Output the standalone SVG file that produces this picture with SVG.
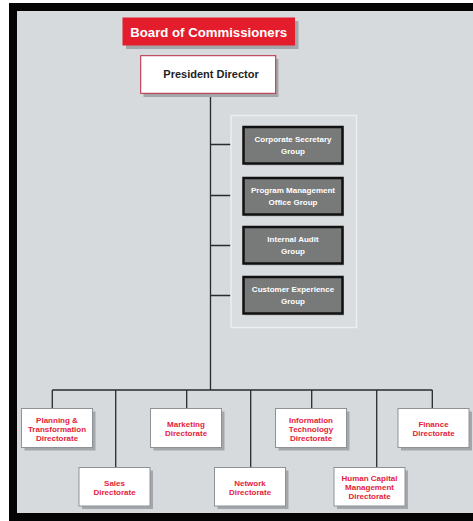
<svg xmlns="http://www.w3.org/2000/svg" width="473" height="521" viewBox="0 0 473 521">
<style>
text{font-family:"Liberation Sans",Arial,sans-serif;font-weight:bold;text-anchor:middle}
.shadow{fill:#a3a7ab}
.dir{fill:#ffffff;stroke:#8e9296;stroke-width:1}
.dirt{fill:#e5223a;font-size:8px}
.grp{fill:#787979;stroke:#111;stroke-width:2.5}
.grpt{fill:#ffffff;font-size:8px}
.ln{stroke:#2a2a2a;stroke-width:1.3;fill:none}
</style>
<rect x="0" y="0" width="473" height="521" fill="#ffffff"/>
<rect x="9" y="3" width="464" height="518" fill="#050505"/>
<rect x="17" y="11" width="456" height="502" fill="#d6dadd"/>

<g id="connectors">
<line class="ln" x1="210.5" y1="93" x2="210.5" y2="390"/>
<line class="ln" x1="210.5" y1="144.5" x2="243.5" y2="144.5"/>
<line class="ln" x1="210.5" y1="195.5" x2="243.5" y2="195.5"/>
<line class="ln" x1="210.5" y1="245.5" x2="243.5" y2="245.5"/>
<line class="ln" x1="210.5" y1="295.5" x2="243.5" y2="295.5"/>
<line class="ln" x1="52.3" y1="390" x2="432.3" y2="390"/>
<line class="ln" x1="52.3" y1="390" x2="52.3" y2="408.5"/>
<line class="ln" x1="115.7" y1="390" x2="115.7" y2="467.5"/>
<line class="ln" x1="186.7" y1="390" x2="186.7" y2="408.5"/>
<line class="ln" x1="250.7" y1="390" x2="250.7" y2="467.5"/>
<line class="ln" x1="311.7" y1="390" x2="311.7" y2="408.5"/>
<line class="ln" x1="376.7" y1="390" x2="376.7" y2="467.5"/>
<line class="ln" x1="432.3" y1="390" x2="432.3" y2="408.5"/>
</g>

<g id="board">
<rect class="shadow" x="126" y="21" width="172.5" height="28"/>
<rect x="122.5" y="17.5" width="172.5" height="28" fill="#e31d2c"/>
<text x="208.7" y="36.5" fill="#ffffff" font-size="13.2">Board of Commissioners</text>
</g>

<g id="president">
<rect class="shadow" x="143.5" y="59" width="135" height="38"/>
<rect x="140.7" y="55.7" width="135" height="37.6" fill="#ffffff" stroke="#b8283c" stroke-width="1"/>
<text x="211" y="77.7" fill="#1e1e22" font-size="11">President Director</text>
</g>

<rect id="group-container" x="231" y="115.5" width="125.5" height="212" fill="#d9dde0" stroke="#eceef0" stroke-width="1.5"/>

<g id="corporate-secretary">
<rect x="245" y="129" width="99" height="36.5" fill="#b4b8bb"/>
<rect class="grp" x="243.5" y="127" width="99" height="36.5"/>
<text class="grpt" x="293" y="141.5">Corporate Secretary</text>
<text class="grpt" x="293" y="153.5">Group</text>
</g>
<g id="pmo">
<rect x="245" y="180" width="99" height="36.5" fill="#b4b8bb"/>
<rect class="grp" x="243.5" y="178" width="99" height="36.5"/>
<text class="grpt" x="293" y="192.5">Program Management</text>
<text class="grpt" x="293" y="204.5">Office Group</text>
</g>
<g id="internal-audit">
<rect x="245" y="229" width="99" height="36.5" fill="#b4b8bb"/>
<rect class="grp" x="243.5" y="227" width="99" height="36.5"/>
<text class="grpt" x="293" y="241.5">Internal Audit</text>
<text class="grpt" x="293" y="253.5">Group</text>
</g>
<g id="customer-experience">
<rect x="245" y="279" width="99" height="36.5" fill="#b4b8bb"/>
<rect class="grp" x="243.5" y="277" width="99" height="36.5"/>
<text class="grpt" x="293" y="291.5">Customer Experience</text>
<text class="grpt" x="293" y="303.5">Group</text>
</g>

<g id="planning">
<rect class="shadow" x="24.5" y="411.5" width="71" height="39"/>
<rect class="dir" x="21.5" y="408.5" width="71" height="39"/>
<text class="dirt" x="57" y="422.8">Planning &amp;</text>
<text class="dirt" x="57" y="431.8">Transformation</text>
<text class="dirt" x="57" y="440.8">Directorate</text>
</g>
<g id="sales">
<rect class="shadow" x="82" y="470.5" width="71" height="38.5"/>
<rect class="dir" x="79" y="467.5" width="71" height="38.5"/>
<text class="dirt" x="114.5" y="485.5">Sales</text>
<text class="dirt" x="114.5" y="494.5">Directorate</text>
</g>
<g id="marketing">
<rect class="shadow" x="153.5" y="411.5" width="71" height="39"/>
<rect class="dir" x="150.5" y="408.5" width="71" height="39"/>
<text class="dirt" x="186" y="426.8">Marketing</text>
<text class="dirt" x="186" y="435.8">Directorate</text>
</g>
<g id="network">
<rect class="shadow" x="217.5" y="470.5" width="71" height="38.5"/>
<rect class="dir" x="214.5" y="467.5" width="71" height="38.5"/>
<text class="dirt" x="250" y="485.5">Network</text>
<text class="dirt" x="250" y="494.5">Directorate</text>
</g>
<g id="it">
<rect class="shadow" x="278.5" y="411.5" width="71" height="39"/>
<rect class="dir" x="275.5" y="408.5" width="71" height="39"/>
<text class="dirt" x="311" y="422.8">Information</text>
<text class="dirt" x="311" y="431.8">Technology</text>
<text class="dirt" x="311" y="440.8">Directorate</text>
</g>
<g id="hcm">
<rect class="shadow" x="337" y="470.5" width="71" height="38.5"/>
<rect class="dir" x="334" y="467.5" width="71" height="38.5"/>
<text class="dirt" x="369.5" y="481">Human Capital</text>
<text class="dirt" x="369.5" y="490">Management</text>
<text class="dirt" x="369.5" y="499">Directorate</text>
</g>
<g id="finance">
<rect class="shadow" x="401" y="411.5" width="71" height="39"/>
<rect class="dir" x="398" y="408.5" width="71" height="39"/>
<text class="dirt" x="433.5" y="426.8">Finance</text>
<text class="dirt" x="433.5" y="435.8">Directorate</text>
</g>
</svg>
